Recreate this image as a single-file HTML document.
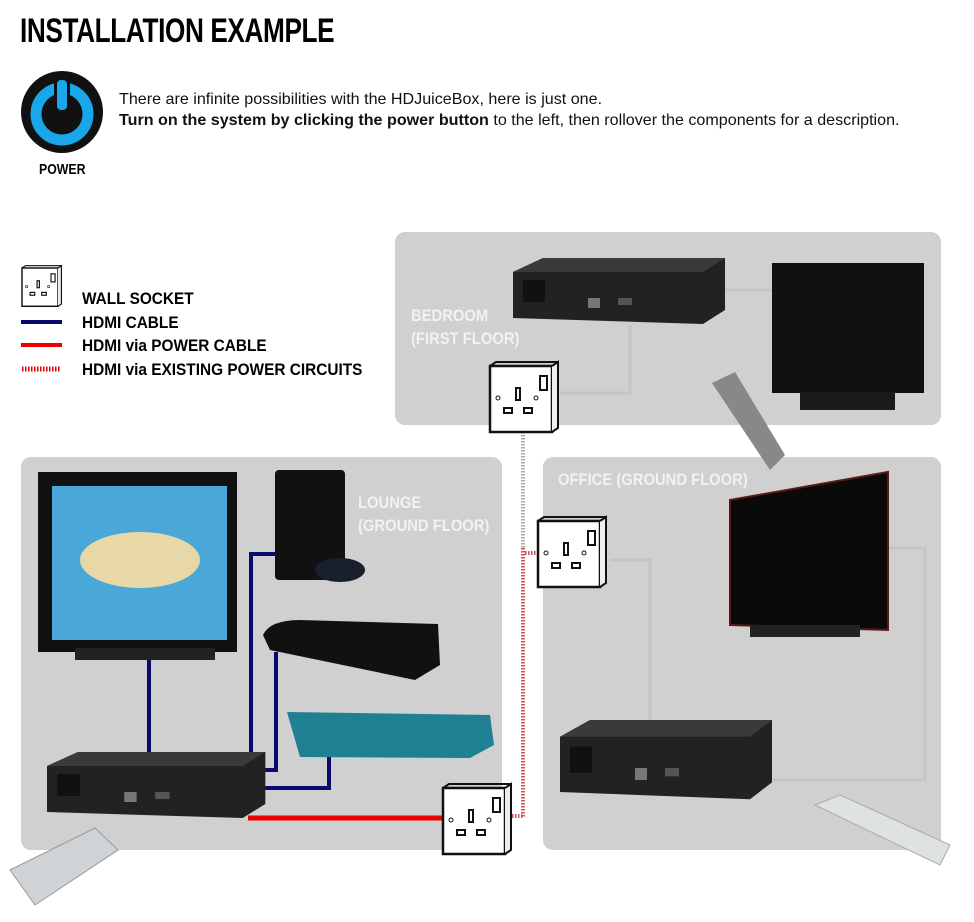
<!DOCTYPE html>
<html><head><meta charset="utf-8"><style>
body{margin:0;background:#fff;width:974px;height:922px;overflow:hidden;font-family:"Liberation Sans",sans-serif}
.h{position:absolute;font-family:"Liberation Sans Narrow","Liberation Sans",sans-serif;font-weight:bold;transform-origin:left top;white-space:nowrap}
</style></head><body>
<div class="h" style="left:20px;top:12px;font-size:34px;letter-spacing:-0.5px;transform:scaleX(0.77)">INSTALLATION EXAMPLE</div>
<div style="position:absolute;left:119px;top:89px;font-size:16.1px;color:#111;line-height:21px;white-space:nowrap">There are infinite possibilities with the HDJuiceBox, here is just one.<br><b>Turn on the system by clicking the power button</b> to the left, then rollover the components for a description.</div>
<div class="h" style="left:39px;top:161px;font-size:15px;transform:scaleX(0.82)">POWER</div>
<div class="h" style="left:82px;top:287px;font-size:17px;line-height:23.5px;transform:scaleX(0.905)">WALL SOCKET<br>HDMI CABLE<br>HDMI via POWER CABLE<br>HDMI via EXISTING POWER CIRCUITS</div>
<svg width="974" height="922" style="position:absolute;left:0;top:0;z-index:-1">
<defs>
<g id="sock"><rect x="0" y="0" width="62" height="66" fill="#fff" stroke="#111" stroke-width="2.5"/><path d="M62 0 L68 -4 L68 62 L62 66" fill="#eee" stroke="#111" stroke-width="2"/><path d="M0 0 L6 -4 L68 -4" fill="none" stroke="#111" stroke-width="2"/><rect x="26" y="22" width="4" height="12" fill="none" stroke="#111" stroke-width="2"/><rect x="50" y="10" width="7" height="14" fill="none" stroke="#111" stroke-width="2"/><rect x="14" y="42" width="8" height="5" fill="none" stroke="#111" stroke-width="2"/><rect x="34" y="42" width="8" height="5" fill="none" stroke="#111" stroke-width="2"/><circle cx="8" cy="32" r="2" fill="none" stroke="#111"/><circle cx="46" cy="32" r="2" fill="none" stroke="#111"/></g>
<g id="jb"><path d="M0 14 L30 0 L212 0 L212 52 L190 66 L0 60 Z" fill="#222"/><path d="M0 14 L30 0 L212 0 L190 14 Z" fill="#3a3a3a"/><rect x="10" y="22" width="22" height="22" fill="#111"/><rect x="75" y="40" width="12" height="10" fill="#777"/><rect x="105" y="40" width="14" height="7" fill="#555"/></g>
</defs>
<circle cx="62" cy="112" r="41" fill="#111"/><circle cx="62" cy="114" r="26" fill="none" stroke="#19a6ea" stroke-width="11"/><rect x="54" y="78" width="16" height="36" rx="6" fill="#111"/><rect x="57" y="80" width="10" height="30" rx="4" fill="#19a6ea"/>
<g transform="translate(22,268) scale(0.58)"><use href="#sock"/></g>
<rect x="21" y="320" width="41" height="4" fill="#0a0a6e"/>
<rect x="21" y="343" width="41" height="4" fill="#e00"/>
<line x1="22" y1="369" x2="61" y2="369" stroke="#d00" stroke-width="5" stroke-dasharray="1.5 1.5"/>
<rect x="395" y="232" width="546" height="193" rx="10" fill="#d0d0d0"/>
<rect x="21" y="457" width="481" height="393" rx="10" fill="#d0d0d0"/>
<rect x="543" y="457" width="398" height="393" rx="10" fill="#d0d0d0"/>
<path d="M630 325 L630 393 L560 393 M710 290 L772 290" stroke="#c4c4c4" stroke-width="3" fill="none"/>
<path d="M610 560 L650 560 L650 720 M888 548 L925 548 L925 780 L773 780" stroke="#c4c4c4" stroke-width="3" fill="none"/>
<line x1="523" y1="432" x2="523" y2="548" stroke="#aaa" stroke-width="4" stroke-dasharray="1.5 1.5"/>
<line x1="523" y1="548" x2="523" y2="818" stroke="#c55" stroke-width="4" stroke-dasharray="1.5 1.5"/>
<line x1="512" y1="816" x2="523" y2="816" stroke="#c55" stroke-width="4" stroke-dasharray="1.5 1.5"/>
<line x1="525" y1="553" x2="537" y2="553" stroke="#c55" stroke-width="4" stroke-dasharray="1.5 1.5"/>
<g stroke="#0a0a6e" stroke-width="4" fill="none"><path d="M149 657 L149 757"/><path d="M275 554 L251 554 L251 763 L263 763"/><path d="M276 652 L276 770 L263 770"/><path d="M329 752 L329 788 L263 788"/></g>
<line x1="248" y1="818" x2="442" y2="818" stroke="#e00" stroke-width="5"/>
<use href="#jb" x="513" y="258"/>
<rect x="772" y="263" width="152" height="130" fill="#111"/><rect x="800" y="392" width="95" height="18" fill="#1a1a1a"/>
<path d="M712 383 L735 372 L785 455 L770 470 Z" fill="#888"/>
<use href="#sock" x="490" y="366"/>
<rect x="38" y="472" width="199" height="180" fill="#111"/><rect x="52" y="486" width="175" height="154" fill="#4aa8d8"/><ellipse cx="140" cy="560" rx="60" ry="28" fill="#e8d8a8"/><rect x="75" y="648" width="140" height="12" fill="#222"/>
<rect x="275" y="470" width="70" height="110" rx="4" fill="#111"/><ellipse cx="340" cy="570" rx="25" ry="12" fill="#1a1f2e"/>
<path d="M263 635 Q270 620 300 620 L438 624 L440 665 L415 680 L270 650 Z" fill="#111"/>
<path d="M287 712 L490 715 L494 745 L470 758 L300 757 Z" fill="#1f7f93"/>
<g transform="translate(47,752) scale(1.03 1)"><use href="#jb"/></g>
<path d="M10 870 L95 828 L118 850 L35 905 Z" fill="#cfd3d6" stroke="#999"/>
<use href="#sock" x="443" y="788"/>
<path d="M730 500 L888 472 L888 630 L730 625 Z" fill="#0a0a0a" stroke="#5a1a1a" stroke-width="2"/><rect x="750" y="625" width="110" height="12" fill="#222"/>
<use href="#sock" x="538" y="521"/>
<g transform="translate(560,720) scale(1 1.2)"><use href="#jb"/></g>
<path d="M815 805 L840 795 L950 845 L940 865 Z" fill="#dfe2e2" stroke="#aaa"/>
</svg>
<div class="h" style="left:411px;top:304px;font-size:17px;line-height:23px;color:#f2f2f2;transform:scaleX(0.87)">BEDROOM<br>(FIRST FLOOR)</div>
<div class="h" style="left:358px;top:491px;font-size:17px;line-height:23px;color:#f2f2f2;transform:scaleX(0.87)">LOUNGE<br>(GROUND FLOOR)</div>
<div class="h" style="left:558px;top:470px;font-size:17px;color:#f2f2f2;transform:scaleX(0.87)">OFFICE (GROUND FLOOR)</div>
</body></html>
